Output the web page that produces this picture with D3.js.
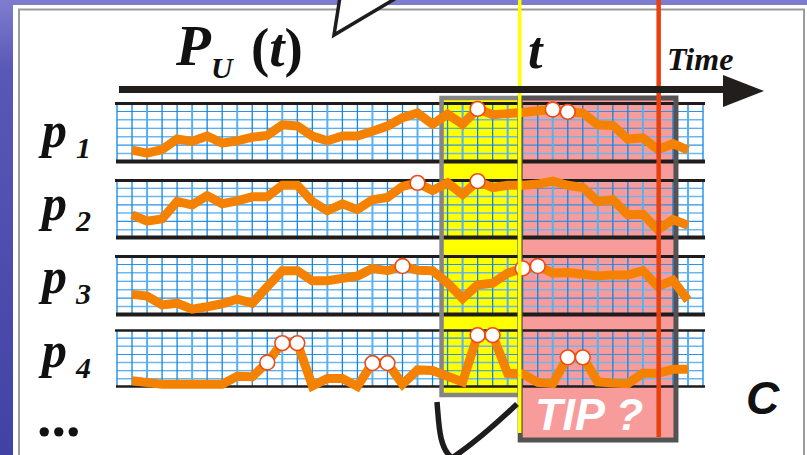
<!DOCTYPE html>
<html><head><meta charset="utf-8">
<script src="https://cdn.jsdelivr.net/npm/d3@7"></script>
<style>html,body{margin:0;padding:0;overflow:hidden;background:#fff}</style>
</head><body>
<svg id="c" width="807" height="455"></svg>
<script>
// ---------- DATA ----------
const seriesNames = ["1", "2", "3", "4"];
const timeSteps = d3.range(1, 39);          // time indices 1..38 (grid columns)
const p1 = [20,15,21,39,35,44,32,36,42,45,63,61,44,36,44,44,52,61,75,83,64,81,64,90,80,82,84,87,89,85,83,63,62,39,41,21,31,20];
const p2 = [40,29,33,63,57,73,59,64,71,71,91,91,63,47,59,49,66,70,89,95,82,95,75,98,87,91,91,93,98,91,87,63,66,40,41,14,32,22];
const p3 = [35,32,17,20,10,14,19,27,20,48,75,75,58,58,62,66,79,75,83,76,75,54,28,51,54,71,79,83,71,72,69,66,68,68,75,48,59,25];
const p4 = [11,8,5,5,5,5,5,19,18,43,77,77,2,15,15,1,42,42,5,30,29,19,9,91,91,24,23,8,6,52,52,9,7,6,24,24,31,31];
const marks1 = [24,29,30];
const marks2 = [20,24];
const marks3 = [19,27,28];
const marks4 = [10,11,12,17,18,24,25,30,31];
const gridLevels = [14.3, 28.6, 42.9, 57.1, 71.4, 85.7];   // horizontal grid lines (value units)
const pastWindow = [21.6, 26.8];   // yellow window (time units)
const tipWindow = [26.8, 37.2];    // pink TIP window
const nowT = 26.8;                 // current time t
const horizonT = 36.05;            // red line
const titleMain = "P", titleSub = "U", titleArg = "(t)";
const tLabel = "t", timeLabel = "Time", tipLabel = "TIP ?", cLabel = "C", moreLabel = "...";

// ---------- LAYOUT ----------
const svg = d3.select("#c");
const W = 807, H = 455;
const x = d3.scaleLinear().domain([0, 39]).range([117, 703]);
const rowTop = [103, 180, 256, 330];
const rowH = [59, 58, 59, 57];
const values = [p1, p2, p3, p4];
const marks = [marks1, marks2, marks3, marks4];
const yScales = rowTop.map((t, i) => d3.scaleLinear().domain([0, 100]).range([t + rowH[i], t]));

// background
const defs = svg.append("defs");
const g1 = defs.append("linearGradient").attr("id", "bg").attr("x1", 0).attr("y1", 0).attr("x2", 0).attr("y2", 1);
g1.append("stop").attr("offset", 0).attr("stop-color", "#7f7dcf");
g1.append("stop").attr("offset", 0.15).attr("stop-color", "#5a58b6");
g1.append("stop").attr("offset", 1).attr("stop-color", "#4242a6");
svg.append("rect").attr("width", W).attr("height", H).attr("fill", "url(#bg)");
svg.append("rect").attr("x", 13).attr("y", 5).attr("width", W - 13).attr("height", H - 5).attr("fill", "#fff");
svg.append("path").attr("d", "M19,455 L19,9.5 L804,9.5 L804,455").attr("fill", "none")
  .attr("stroke", "#9c9c9c").attr("stroke-width", 2);

// highlight fills
const yTopBox = 98;
svg.append("rect").attr("x", x(pastWindow[0])).attr("y", yTopBox)
  .attr("width", x(pastWindow[1]) - x(pastWindow[0])).attr("height", 297).attr("fill", "#ffff00");
svg.append("rect").attr("x", x(tipWindow[0])).attr("y", yTopBox)
  .attr("width", x(tipWindow[1]) - x(tipWindow[0])).attr("height", 342).attr("fill", "#f89b9b");

// grid per row
const xTicks = d3.range(0, 40);
rowTop.forEach((t, i) => {
  const g = svg.append("g");
  const ys = yScales[i];
  g.selectAll("line.h").data(gridLevels).join("line")
    .attr("x1", x(0)).attr("x2", x(39)).attr("y1", d => ys(d)).attr("y2", d => ys(d))
    .attr("stroke", (d, j) => j % 2 ? "#2a92e8" : "#6ab8f0").attr("stroke-width", (d, j) => j % 2 ? 1.1 : 1.5);
  g.selectAll("line.v").data(xTicks).join("line")
    .attr("x1", d => x(d)).attr("x2", d => x(d)).attr("y1", ys(100)).attr("y2", ys(0))
    .attr("stroke", d => d % 3 === 2 ? "#58b0f0" : "#1086e6").attr("stroke-width", d => d % 3 === 2 ? 2 : 1.3);
  // borders
  const bw = i === 3 ? 2.5 : 3;
  g.append("line").attr("x1", x(0) - 2).attr("x2", x(39) + 2).attr("y1", ys(100) + 0.5).attr("y2", ys(100) + 0.5)
    .attr("stroke", "#1e1c1c").attr("stroke-width", bw);
  g.append("line").attr("x1", x(0) - 1).attr("x2", x(39) + 2).attr("y1", ys(0) - 0.5).attr("y2", ys(0) - 0.5)
    .attr("stroke", "#1e1c1c").attr("stroke-width", i === 3 ? 2.5 : 4);
});

// window borders
svg.append("rect").attr("x", x(pastWindow[0])).attr("y", yTopBox)
  .attr("width", x(pastWindow[1]) - x(pastWindow[0])).attr("height", 297)
  .attr("fill", "none").attr("stroke", "#858585").attr("stroke-width", 4.5);
svg.append("rect").attr("x", x(tipWindow[0]) + 0.5).attr("y", yTopBox)
  .attr("width", x(tipWindow[1]) - x(tipWindow[0]) - 0.5).attr("height", 342)
  .attr("fill", "none").attr("stroke", "#545252").attr("stroke-width", 5);

// series lines
const line = d3.line().x((d, j) => x(timeSteps[j]));
values.forEach((vals, i) => {
  const ys = yScales[i];
  svg.append("path").datum(vals)
    .attr("d", line.y(d => ys(d)))
    .attr("fill", "none").attr("stroke", "#f48200").attr("stroke-width", 9)
    .attr("stroke-linejoin", "miter").attr("stroke-miterlimit", 3).attr("stroke-linecap", "butt");
});
// markers
values.forEach((vals, i) => {
  const ys = yScales[i];
  svg.append("g").selectAll("circle").data(marks[i]).join("circle")
    .attr("cx", d => x(d)).attr("cy", d => ys(vals[d - 1]))
    .attr("r", 7.4).attr("fill", "#fff").attr("stroke", "#ee4a14").attr("stroke-width", 1.6);
});

// vertical time lines
svg.append("line").attr("x1", x(nowT)).attr("x2", x(nowT)).attr("y1", 0).attr("y2", 433)
  .attr("stroke", "#ffff00").attr("stroke-width", 3.5);
svg.append("line").attr("x1", x(horizonT)).attr("x2", x(horizonT)).attr("y1", 0).attr("y2", 437)
  .attr("stroke", "#e8400e").attr("stroke-width", 4.5);

// time arrow
svg.append("line").attr("x1", 119).attr("x2", 726).attr("y1", 89.5).attr("y2", 89.5)
  .attr("stroke", "#221e1b").attr("stroke-width", 7);
svg.append("path").attr("d", "M723,75 L764,91 L723,107 Z").attr("fill", "#221e1b");

// callouts
svg.append("path").attr("d", "M340,-3 L334,35 L398,-3").attr("fill", "#fff")
  .attr("stroke", "#1e1c1c").attr("stroke-width", 3.5).attr("stroke-linejoin", "miter");
svg.append("path").attr("d", "M437,402 C439,425 439,448 452,458 M517,404 C496,424 470,446 452,458")
  .attr("fill", "none").attr("stroke", "#1e1c1c").attr("stroke-width", 5.5);

// texts
const serif = "'Liberation Serif','Times New Roman',serif";
const sans = "'Liberation Sans',Arial,sans-serif";
function txt(s, xx, yy, size, fam, opts = {}) {
  return svg.append("text").attr("x", xx).attr("y", yy).text(s)
    .attr("font-family", fam).attr("font-size", size)
    .attr("font-weight", opts.weight || "bold").attr("font-style", opts.style || "italic")
    .attr("fill", opts.fill || "#111");
}
txt(titleMain, 176, 65, 57, serif);
txt(titleSub, 211, 78, 30, serif);
const arg = svg.append("text").attr("x", 251).attr("y", 66).attr("font-family", serif)
  .attr("font-size", 55).attr("font-weight", "bold").attr("fill", "#111");
titleArg.split("").forEach(ch => {
  arg.append("tspan").text(ch).attr("font-style", ch === "(" || ch === ")" ? "normal" : "italic");
});
txt(tLabel, 528, 68, 52, serif);
txt(timeLabel, 667, 70, 32, serif);
seriesNames.forEach((n, i) => {
  const base = [147, 220, 293, 367][i];
  txt("p", 42, base, 50, serif);
  txt(n, 76, base + 11, 30, serif);
});
txt(moreLabel, 37, 436, 58, serif, { style: "normal" });
txt(tipLabel, 535, 430, 45, sans, { fill: "#fff" });
txt(cLabel, 746, 414, 46, sans);
</script>
</body></html>
